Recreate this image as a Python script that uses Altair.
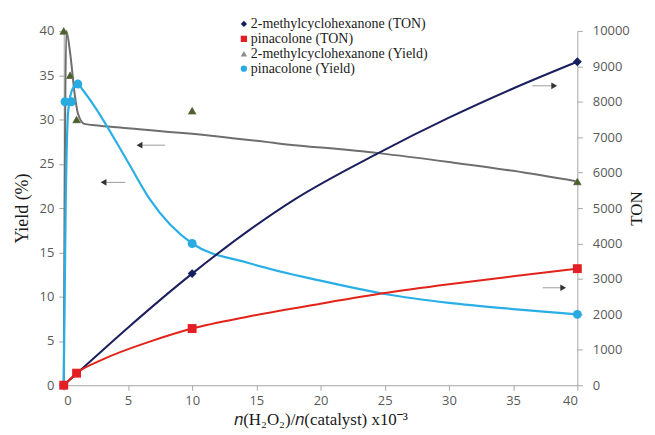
import altair as alt
import pandas as pd

# ---------------- data ----------------
series_names = ["2-methylcyclohexanone (TON)", "pinacolone (TON)",
                "2-methylcyclohexanone (Yield)", "pinacolone (Yield)"]
legend_colors = ["#14205e", "#e31e24", "#8c8c8c", "#29abe2"]
legend_shapes = ["diamond", "square", "triangle-up", "circle"]

# markers
mch_ton_x = [0, 10, 40]
mch_ton_y = [0, 3150, 9130]
pin_ton_x = [0, 1, 10, 40]
pin_ton_y = [0, 340, 1600, 3290]
mch_yield_x = [0, 0.5, 1, 10, 40]
mch_yield_y = [40, 35, 30, 31, 23]
pin_yield_x = [0.1, 0.6, 1.1, 10, 40]
pin_yield_y = [32, 32, 34, 16, 8]

# smoothed curves
mch_ton_cx = [0, 1, 5, 10, 17.9, 24.5, 30, 35, 40]
mch_ton_cy = [0, 325, 1625, 3150, 5225, 6550, 7550, 8375, 9130]
pin_ton_cx = [0, 1, 3, 6.7, 10, 14.4, 20, 25, 30, 35, 40]
pin_ton_cy = [0, 340, 720, 1230, 1600, 1940, 2300, 2600, 2850, 3075, 3290]
mch_yield_cx = [0, 0.2, 0.5, 0.85, 1.1, 1.6, 2.8, 5, 11.3, 16.7, 24.5, 30, 35, 40]
mch_yield_cy = [0, 40, 37.5, 32.9, 30.7, 29.5, 29.3, 29.0, 28.2, 27.3, 26.2, 25.2, 24.2, 23]
pin_yield_cx = [0, 0.15, 0.35, 0.7, 1.1, 1.5, 2.25, 5, 6.7, 10, 14.4, 20, 25, 30, 35, 40]
pin_yield_cy = [0, 20, 31, 33.5, 34, 33.3, 31.8, 25.2, 21, 16, 13.8, 11.8, 10.3, 9.3, 8.6, 8]

# arrows (x start, x end, y in yield units, head side)
arrow_x1 = [5.9, 3.1, 36.5, 37.3]
arrow_x2 = [7.9, 4.8, 38.2, 38.9]
arrow_y = [27.1, 22.9, 33.8, 11.0]
arrow_dir = ["left", "left", "right", "right"]

x_title = "𝑛(H₂O₂)/𝑛(catalyst) x10⁻³"

# ---------------- tables ----------------
def tbl(x, y, name):
    return pd.DataFrame({"x": x, "y": y, "series": name})

pts_yield = pd.concat([tbl(mch_yield_x, mch_yield_y, series_names[2]),
                       tbl(pin_yield_x, pin_yield_y, series_names[3])])
pts_ton = pd.concat([tbl(mch_ton_x, mch_ton_y, series_names[0]),
                     tbl(pin_ton_x, pin_ton_y, series_names[1])])
arrows = pd.DataFrame({"x1": arrow_x1, "x2": arrow_x2, "y": arrow_y, "dir": arrow_dir})
arrows["hx"] = [a if d == "left" else b for a, b, d in zip(arrow_x1, arrow_x2, arrow_dir)]
arrows["shape"] = ["triangle-left" if d == "left" else "triangle-right" for d in arrow_dir]

# ---------------- encodings ----------------
tick_font = "Open Sans"
serif = "Liberation Serif"

X = alt.X("x:Q", scale=alt.Scale(domain=[0, 40], nice=False),
          axis=alt.Axis(values=list(range(0, 41, 5)), title=x_title,
                        titleFont=serif, titleFontSize=17, titleFontWeight="normal",
                        titleColor="#1a1a1a", titlePadding=4,
                        labelFont=tick_font, labelFontSize=13, labelColor="#595959",
                        labelPadding=4, domainColor="#a6a6a6", tickColor="#a6a6a6",
                        tickSize=5, grid=False))
YL = alt.Y("y:Q", scale=alt.Scale(domain=[0, 40], nice=False),
           axis=alt.Axis(values=list(range(0, 41, 5)), title="Yield (%)", orient="left",
                         titleFont=serif, titleFontSize=18, titleFontWeight="normal",
                         titleColor="#1a1a1a", titlePadding=8,
                         labelFont=tick_font, labelFontSize=13, labelColor="#595959",
                         labelPadding=5, domainColor="#a6a6a6", tickColor="#a6a6a6",
                         tickSize=5, grid=False))
YR = alt.Y("y:Q", scale=alt.Scale(domain=[0, 10000], nice=False),
           axis=alt.Axis(values=list(range(0, 10001, 1000)), format="d", title="TON",
                         orient="right",
                         titleFont=serif, titleFontSize=17, titleFontWeight="normal",
                         titleColor="#1a1a1a", titleAngle=270, titlePadding=16,
                         labelFont=tick_font, labelFontSize=13, labelColor="#595959",
                         labelPadding=10, domainColor="#a6a6a6", tickColor="#a6a6a6",
                         tickSize=5, grid=False))

legend_cfg = dict(title=None, orient="none", legendX=174, legendY=-14,
                  labelFont=serif, labelFontSize=14, labelColor="#1a1a1a",
                  labelLimit=0, symbolSize=40, rowPadding=1, labelOffset=0,
                  symbolStrokeWidth=0)
color_enc = alt.Color("series:N", scale=alt.Scale(domain=series_names, range=legend_colors),
                      legend=alt.Legend(**legend_cfg))
shape_enc = alt.Shape("series:N", scale=alt.Scale(domain=series_names, range=legend_shapes),
                      legend=alt.Legend(**legend_cfg))

def curve(x, y, color, width=2):
    return alt.Chart(pd.DataFrame({"x": x, "y": y})).mark_line(
        interpolate="monotone", color=color, strokeWidth=width)

# ---------------- left (yield) ----------------
gray_line = curve(mch_yield_cx, mch_yield_cy, "#6e6e6e").encode(x=X, y=YL)
blue_line = curve(pin_yield_cx, pin_yield_cy, "#2aaee6", 2.2).encode(x=X, y=YL)
yield_pts = alt.Chart(pts_yield).mark_point(filled=True, size=80, opacity=1).encode(
    x=X, y=YL, color=color_enc, shape=shape_enc)
tri_overlay = alt.Chart(tbl(mch_yield_x, mch_yield_y, series_names[2])).mark_point(
    filled=True, size=60, opacity=1, shape="triangle-up", color="#4d6226").encode(x=X, y=YL)
arrow_lines = alt.Chart(arrows).mark_rule(color="#9a9a9a", strokeWidth=1).encode(
    x=alt.X("x1:Q"), x2="x2:Q", y=alt.Y("y:Q"))
arrow_heads = alt.Chart(arrows).mark_point(filled=True, size=45, opacity=1, color="#333333").encode(
    x=alt.X("hx:Q"), y=alt.Y("y:Q"),
    shape=alt.Shape("shape:N", scale=None, legend=None))

left = alt.layer(gray_line, blue_line, yield_pts, tri_overlay, arrow_lines, arrow_heads)

# ---------------- right (TON) ----------------
navy_line = curve(mch_ton_cx, mch_ton_cy, "#1b1f5e").encode(x=X, y=YR)
red_line = curve(pin_ton_cx, pin_ton_cy, "#e2231a").encode(x=X, y=YR)
ton_pts = alt.Chart(pts_ton).mark_point(filled=True, size=80, opacity=1).encode(
    x=X, y=YR, color=color_enc, shape=shape_enc)

right = alt.layer(navy_line, red_line, ton_pts)

chart = alt.layer(left, right).resolve_scale(y="independent").properties(
    width=516, height=356,
    autosize=alt.AutoSizeParams(type="none"),
    padding={"left": 56, "top": 22, "right": 70, "bottom": 45},
    background="white",
).configure_view(stroke=None)

chart.save("out.html", embed_options={"renderer": "svg", "actions": False})
